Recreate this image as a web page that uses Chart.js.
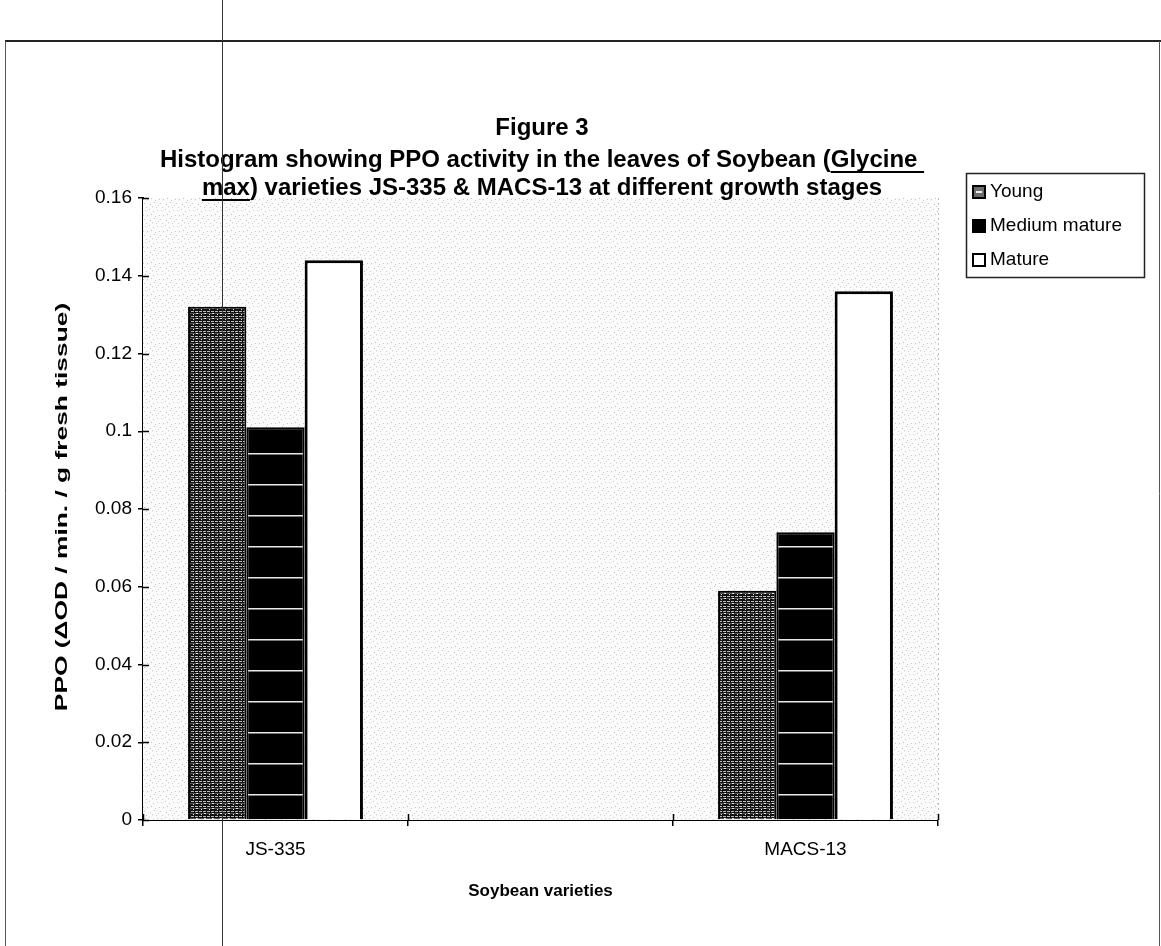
<!DOCTYPE html>
<html>
<head>
<meta charset="utf-8">
<script src="https://cdn.jsdelivr.net/npm/chart.js@4.4.0/dist/chart.umd.min.js"></script>
<style>
  html, body { margin: 0; padding: 0; background: #ffffff; }
  #wrap { width: 1161px; height: 946px; position: relative; }
</style>
</head>
<body>
<div id="wrap"><canvas id="chart" width="1161" height="946"></canvas></div>
<script>
// Soybean varieties (the middle slot is an empty category between the two groups)
const categories = ['JS-335', '', 'MACS-13'];
const seriesNames = ['Young', 'Medium mature', 'Mature'];

// PPO activity (ΔOD / min. / g fresh tissue)
const young        = [0.132, null, 0.059];
const mediumMature = [0.101, null, 0.074];
const mature       = [0.144, null, 0.136];

const yTickValues = [0, 0.02, 0.04, 0.06, 0.08, 0.1, 0.12, 0.14, 0.16];
const yTickLabels = ['0', '0.02', '0.04', '0.06', '0.08', '0.1', '0.12', '0.14', '0.16'];

const titleLines = [
  'Figure 3',
  'Histogram showing PPO activity in the leaves of Soybean (Glycine ',
  'max) varieties JS-335 & MACS-13 at different growth stages'
];
const underlined = [null, 'Glycine ', 'max'];
const yAxisTitle = 'PPO (ΔOD / min. / g fresh tissue)';
const xAxisTitle = 'Soybean varieties';

const FONT = "'Liberation Sans', Arial, sans-serif";

// ---- fill patterns ----
function makePattern(w, h, paint) {
  const c = document.createElement('canvas');
  c.width = w; c.height = h;
  const g = c.getContext('2d');
  paint(g);
  return document.getElementById('chart').getContext('2d').createPattern(c, 'repeat');
}

// dense dark hatching for the young stage
const youngFill = makePattern(8, 5, g => {
  g.fillStyle = '#111'; g.fillRect(0, 0, 8, 5);
  g.fillStyle = '#bdbdbd'; g.fillRect(0, 1, 8, 1);
  g.fillStyle = '#555'; g.fillRect(0, 3, 8, 1);
  g.fillStyle = '#000'; g.fillRect(2, 1, 1, 1); g.fillRect(6, 1, 1, 1);
  g.fillStyle = '#e6e6e6'; g.fillRect(4, 3, 2, 1); g.fillRect(1, 4, 1, 1);
});

// black with thin light rules for the medium-mature stage
const mediumFill = makePattern(8, 31, g => {
  g.fillStyle = '#000'; g.fillRect(0, 0, 8, 31);
  g.fillStyle = '#e8e8e8'; g.fillRect(0, 19, 8, 1);
  g.fillStyle = '#777'; g.fillRect(0, 20, 8, 1);
});

// light speckled plot-area background
const plotFill = makePattern(16, 16, g => {
  g.fillStyle = '#fbfbfb'; g.fillRect(0, 0, 16, 16);
  g.fillStyle = '#c6c6c6';
  [[1,2],[5,1],[9,3],[13,2],[3,7],[7,6],[11,8],[15,7],[0,11],[6,12],[10,10],[14,13],[2,15],[8,14],[12,15]]
    .forEach(([x, y]) => g.fillRect(x, y, 1, 1));
});

const fills = [youngFill, mediumFill, '#ffffff'];
const legendSwatches = ['#6d6d6d', '#000000', '#ffffff'];

// ---- plugins ----
const plotBackground = {
  id: 'plotBackground',
  beforeDatasetsDraw(chart) {
    const { ctx, chartArea: a } = chart;
    ctx.save();
    ctx.fillStyle = plotFill;
    ctx.fillRect(a.left, a.top, a.right - a.left, a.bottom - a.top);
    ctx.strokeStyle = '#bdbdbd';
    ctx.lineWidth = 1;
    ctx.setLineDash([2, 3]);
    ctx.beginPath();
    ctx.moveTo(a.right + 0.5, a.top);
    ctx.lineTo(a.right + 0.5, a.bottom);
    ctx.stroke();
    ctx.restore();
  }
};

// tick marks crossing the axes
const crossTicks = {
  id: 'crossTicks',
  afterDraw(chart) {
    const { ctx, chartArea: a, scales } = chart;
    ctx.save();
    ctx.strokeStyle = '#000';
    ctx.lineWidth = 1.5;
    ctx.beginPath();
    yTickValues.forEach(v => {
      const y = Math.round(scales.y.getPixelForValue(v)) + 0.5;
      ctx.moveTo(a.left, y); ctx.lineTo(a.left + 6, y);
    });
    for (let i = 0; i <= categories.length; i++) {
      const x = Math.round(a.left + (a.right - a.left) * i / categories.length) + 0.5;
      ctx.moveTo(x, a.bottom); ctx.lineTo(x, a.bottom - 6);
    }
    ctx.stroke();
    ctx.restore();
  }
};

// vertical axis caption, drawn tall and narrow
const yCaption = {
  id: 'yCaption',
  afterDraw(chart) {
    const { ctx, chartArea: a } = chart;
    ctx.save();
    ctx.translate(62, (a.top + a.bottom) / 2 - 2);
    ctx.rotate(-Math.PI / 2);
    ctx.scale(1.55, 1);
    ctx.font = 'bold 17px ' + FONT;
    ctx.fillStyle = '#000';
    ctx.textAlign = 'center';
    ctx.textBaseline = 'middle';
    ctx.fillText(yAxisTitle, 0, 0);
    ctx.restore();
  }
};

const headline = {
  id: 'headline',
  afterDraw(chart) {
    const { ctx } = chart;
    const cx = 542;
    const ys = [128, 160, 188];
    ctx.save();
    ctx.fillStyle = '#000';
    ctx.strokeStyle = '#000';
    ctx.font = 'bold 24px ' + FONT;
    ctx.textBaseline = 'middle';
    ctx.textAlign = 'left';
    titleLines.forEach((line, i) => {
      const w = ctx.measureText(line).width;
      const x0 = cx - w / 2;
      ctx.fillText(line, x0, ys[i]);
      const u = underlined[i];
      if (u) {
        const idx = line.indexOf(u);
        const ux = x0 + ctx.measureText(line.slice(0, idx)).width;
        const uw = ctx.measureText(u).width;
        ctx.lineWidth = 2;
        ctx.beginPath();
        ctx.moveTo(ux, ys[i] + 12);
        ctx.lineTo(ux + uw, ys[i] + 12);
        ctx.stroke();
      }
    });
    ctx.restore();
  }
};

const sideLegend = {
  id: 'sideLegend',
  afterDraw(chart) {
    const { ctx } = chart;
    const box = { x: 966, y: 173, w: 178, h: 104 };
    ctx.save();
    ctx.fillStyle = '#fff';
    ctx.fillRect(box.x, box.y, box.w, box.h);
    ctx.strokeStyle = '#222';
    ctx.lineWidth = 1.5;
    ctx.strokeRect(box.x + 0.5, box.y + 0.5, box.w, box.h);
    ctx.font = '19px ' + FONT;
    ctx.textBaseline = 'middle';
    chart.data.datasets.forEach((ds, i) => {
      const cy = box.y + 19 + i * 34;
      ctx.fillStyle = legendSwatches[i];
      ctx.fillRect(box.x + 7, cy - 6, 12, 12);
      ctx.strokeStyle = '#000';
      ctx.lineWidth = 2;
      ctx.strokeRect(box.x + 7, cy - 6, 12, 12);
      if (i === 0) {
        ctx.fillStyle = '#eee';
        ctx.fillRect(box.x + 10, cy - 1, 6, 2);
      }
      ctx.fillStyle = '#000';
      ctx.fillText(ds.label, box.x + 24, cy);
    });
    ctx.restore();
  }
};

const pageFrame = {
  id: 'pageFrame',
  afterDraw(chart) {
    const { ctx } = chart;
    ctx.save();
    ctx.strokeStyle = '#222';
    ctx.lineWidth = 2;
    ctx.beginPath();
    ctx.moveTo(5, 41); ctx.lineTo(1161, 41);
    ctx.stroke();
    ctx.lineWidth = 1;
    ctx.strokeStyle = '#555';
    ctx.beginPath();
    ctx.moveTo(5.5, 41); ctx.lineTo(5.5, 946);
    ctx.moveTo(1159.5, 41); ctx.lineTo(1159.5, 946);
    ctx.stroke();
    // thin vertical rule running down the whole sheet
    ctx.strokeStyle = '#333';
    ctx.beginPath();
    ctx.moveTo(222.5, 0); ctx.lineTo(222.5, 946);
    ctx.stroke();
    ctx.restore();
  }
};

new Chart(document.getElementById('chart'), {
  type: 'bar',
  data: {
    labels: categories,
    datasets: [young, mediumMature, mature].map((vals, i) => ({
      label: seriesNames[i],
      data: vals,
      backgroundColor: fills[i],
      borderColor: '#000',
      borderWidth: i === 2 ? 3 : 2,
      borderSkipped: 'start',
      categoryPercentage: 0.66,
      barPercentage: 1.0
    }))
  },
  options: {
    responsive: false,
    devicePixelRatio: 1,
    animation: false,
    layout: { padding: { left: 5, right: 223, top: 198, bottom: 0 } },
    plugins: {
      legend: { display: false },
      title: { display: false },
      tooltip: { enabled: false }
    },
    scales: {
      x: {
        offset: true,
        afterFit(scale) { scale.height = 126; },
        grid: { offset: true, drawOnChartArea: false, drawTicks: true, tickLength: 6, color: '#000', lineWidth: 1.5 },
        border: { display: true, color: '#000', width: 2 },
        ticks: { color: '#000', font: { family: FONT, size: 19 }, padding: 12, maxRotation: 0, autoSkip: false },
        title: { display: true, text: xAxisTitle, color: '#000', font: { family: FONT, size: 17, weight: 'bold' }, padding: { top: 0, bottom: 44 } }
      },
      y: {
        min: 0,
        max: 0.16,
        afterFit(scale) { scale.width = 138; },
        afterBuildTicks(scale) { scale.ticks = yTickValues.map(v => ({ value: v })); },
        grid: { drawOnChartArea: false, drawTicks: true, tickLength: 5, color: '#000', lineWidth: 1.5 },
        border: { display: true, color: '#000', width: 2 },
        ticks: {
          color: '#000',
          font: { family: FONT, size: 19 },
          padding: 6,
          callback: (v, i) => yTickLabels[i]
        },
        title: { display: false }
      }
    }
  },
  plugins: [plotBackground, crossTicks, yCaption, headline, sideLegend, pageFrame]
});
</script>
</body>
</html>
